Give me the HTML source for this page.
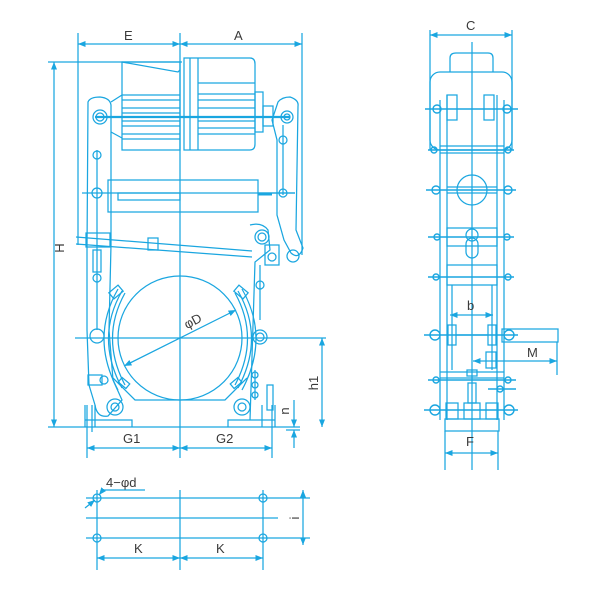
<!DOCTYPE html>
<html><head><meta charset="utf-8"><style>
html,body{margin:0;padding:0;background:#fff;}
svg{display:block;}
text{font-family:"Liberation Sans",sans-serif;fill:#3a3a3a;font-size:13px;}
</style></head><body>
<svg width="600" height="596" viewBox="0 0 600 596" xmlns="http://www.w3.org/2000/svg">
<defs>
<marker id="ar" viewBox="0 0 10 10" refX="10" refY="5" markerWidth="6" markerHeight="6" orient="auto-start-reverse"><path d="M0,1 L10,5 L0,9 z" fill="#1aa6e0"/></marker>
</defs>
<g fill="none" stroke="#1aa6e0" stroke-width="1.25">
<!-- ===== FRONT VIEW ===== -->
<line x1="78" y1="33" x2="78" y2="245"/>
<line x1="302" y1="33" x2="302" y2="255"/>
<line x1="180" y1="33" x2="180" y2="458"/>
<line x1="48" y1="62" x2="182" y2="62"/>
<line x1="48" y1="427" x2="300" y2="427"/>
<line x1="87" y1="405" x2="87" y2="458"/>
<line x1="272" y1="405" x2="272" y2="458"/>
<line x1="78" y1="44" x2="180" y2="44" marker-start="url(#ar)" marker-end="url(#ar)"/>
<line x1="180" y1="44" x2="302" y2="44" marker-start="url(#ar)" marker-end="url(#ar)"/>
<line x1="54" y1="62" x2="54" y2="427" marker-start="url(#ar)" marker-end="url(#ar)"/>
<line x1="87" y1="448" x2="180" y2="448" marker-start="url(#ar)" marker-end="url(#ar)"/>
<line x1="180" y1="448" x2="272" y2="448" marker-start="url(#ar)" marker-end="url(#ar)"/>
<line x1="75" y1="338" x2="326" y2="338"/>
<line x1="322" y1="338" x2="322" y2="427" marker-start="url(#ar)" marker-end="url(#ar)"/>
<line x1="294" y1="400" x2="294" y2="427" marker-end="url(#ar)"/>
<line x1="294" y1="448" x2="294" y2="430" marker-end="url(#ar)"/>
<line x1="286" y1="430" x2="300" y2="430"/>
<!-- motor -->
<path d="M122,62 L180,62 L180,150 L122,150 Z"/>
<path d="M122,62 L178,72 L180,70"/>
<path d="M122,95 L180,95 M122,100 L180,100 M122,108 L180,108 M122,113 L180,113 M122,121 L180,121 M122,126 L180,126 M122,134 L180,134 M122,139 L180,139"/>
<path d="M184,58 L250,58 Q255,58 255,64 L255,144 Q255,150 250,150 L184,150 Z"/>
<line x1="190" y1="58" x2="190" y2="150"/><line x1="198" y1="58" x2="198" y2="150"/>
<path d="M198,83 L255,83 M198,94 L255,94 M198,100 L255,100 M198,108 L255,108 M198,121 L255,121 M198,128 L255,128 M198,134 L255,134"/>
<rect x="255" y="92" width="8" height="40"/><rect x="263" y="106" width="10" height="20"/>
<line x1="95" y1="117" x2="290" y2="117" stroke-width="2.2"/>
<!-- left arm -->
<path d="M88,102 Q90,97 100,97 Q110,98 111,105 L111,245 L109,330 L113,380 L122,400 L108,416 Q97,418 95,405 L89,385 L87,330 L87,250 Z"/>
<circle cx="100" cy="117" r="7"/><circle cx="100" cy="117" r="4"/>
<circle cx="97" cy="155" r="4"/><circle cx="97" cy="193" r="5"/>
<line x1="97" y1="150" x2="97" y2="330"/>
<circle cx="97" cy="336" r="7"/><circle cx="97" cy="278" r="4"/>
<rect x="93" y="250" width="8" height="22"/>
<path d="M111,102 L122,95 M111,132 L122,138"/>
<!-- right arm -->
<path d="M278,102 Q282,97 290,97 Q299,100 298,106 L296,230 L303,248 Q299,260 291,253 L284,240 L277,215 L277,140 L272,120 Z"/>
<circle cx="287" cy="117" r="6"/><circle cx="287" cy="117" r="3"/>
<line x1="283" y1="125" x2="283" y2="195"/><circle cx="283" cy="140" r="4"/><circle cx="283" cy="193" r="4"/>
<line x1="258" y1="193" x2="295" y2="193"/>
<!-- spring box -->
<rect x="108" y="180" width="150" height="32"/>
<rect x="118" y="193" width="62" height="7"/>
<line x1="258" y1="194" x2="272" y2="194" stroke-width="3"/>
<line x1="82" y1="193" x2="295" y2="193"/>
<!-- lever rod -->
<path d="M76,237 L252,251 M76,244 L252,257"/>
<rect x="86" y="233" width="24" height="14"/><rect x="148" y="238" width="10" height="12"/>
<path d="M250,225 Q262,222 268,230 L270,250 L255,262 L250,420"/>
<circle cx="262" cy="237" r="7"/><circle cx="262" cy="237" r="4"/>
<rect x="265" y="245" width="14" height="20"/><circle cx="293" cy="256" r="6"/><circle cx="272" cy="257" r="4"/>
<line x1="260" y1="265" x2="260" y2="320"/><circle cx="260" cy="285" r="4"/>
<circle cx="260" cy="337" r="7"/><circle cx="260" cy="337" r="4"/>
<!-- drum -->
<circle cx="180" cy="338" r="62"/>
<path d="M125,293 Q100,338 125,385 M118,289 Q90,338 118,390 M122,291 Q95,338 122,388"/>
<path d="M235,293 Q260,338 235,385 M242,289 Q270,338 242,390 M238,291 Q265,338 238,388"/>
<path d="M113,378 L135,400 L225,400 L247,378"/>
<rect x="110" y="288" width="12" height="8" transform="rotate(-40 116 292)"/>
<rect x="235" y="288" width="12" height="8" transform="rotate(40 241 292)"/>
<rect x="119" y="380" width="10" height="6" transform="rotate(40 124 383)"/>
<rect x="231" y="380" width="10" height="6" transform="rotate(-40 236 383)"/>
<line x1="124" y1="366" x2="236" y2="310" marker-start="url(#ar)" marker-end="url(#ar)"/>
<!-- lower pivots -->
<circle cx="115" cy="407" r="8"/><circle cx="115" cy="407" r="4"/>
<circle cx="242" cy="407" r="8"/><circle cx="242" cy="407" r="4"/>
<rect x="88" y="375" width="14" height="10"/><circle cx="104" cy="380" r="4"/>
<line x1="255" y1="370" x2="255" y2="400"/><circle cx="255" cy="375" r="3"/><circle cx="255" cy="385" r="3"/><circle cx="255" cy="395" r="3"/>
<rect x="267" y="385" width="6" height="25"/>
<!-- base plates -->
<path d="M85,405 L85,427 M95,405 L95,427 M85,420 L132,420 L132,427"/>
<path d="M228,427 L228,420 L275,420 M262,405 L262,427 M275,405 L275,427"/>
<line x1="92" y1="405" x2="92" y2="432"/>

<!-- ===== SIDE VIEW ===== -->
<line x1="430" y1="30" x2="430" y2="150"/>
<line x1="512" y1="30" x2="512" y2="150"/>
<line x1="430" y1="35" x2="512" y2="35" marker-start="url(#ar)" marker-end="url(#ar)"/>
<line x1="472" y1="42" x2="472" y2="470"/>
<path d="M450,72 L450,58 Q450,53 456,53 L488,53 Q493,53 493,58 L493,72"/>
<rect x="430" y="72" width="82" height="78" rx="10"/>
<line x1="440" y1="100" x2="440" y2="420"/><line x1="447" y1="95" x2="447" y2="420"/>
<line x1="497" y1="95" x2="497" y2="420"/><line x1="504" y1="100" x2="504" y2="420"/>
<rect x="447" y="95" width="10" height="25"/><rect x="484" y="95" width="10" height="25"/>
<line x1="440" y1="146" x2="504" y2="146"/><line x1="440" y1="153" x2="504" y2="153"/>
<circle cx="472" cy="190" r="15"/>
<line x1="447" y1="187" x2="497" y2="187"/><line x1="447" y1="193" x2="497" y2="193"/>
<rect x="447" y="228" width="50" height="18"/>
<circle cx="472" cy="235" r="6"/><rect x="466" y="238" width="12" height="20" rx="6"/>
<rect x="447" y="265" width="50" height="20"/>
<line x1="452" y1="285" x2="452" y2="370"/><line x1="492" y1="285" x2="492" y2="370"/>
<line x1="450" y1="315" x2="493" y2="315" marker-start="url(#ar)" marker-end="url(#ar)"/>
<rect x="448" y="325" width="8" height="20"/><rect x="488" y="325" width="8" height="20"/>
<line x1="456" y1="335" x2="488" y2="335"/>
<rect x="502" y="329" width="56" height="13"/>
<line x1="557" y1="342" x2="557" y2="375"/>
<line x1="473" y1="361" x2="557" y2="361" marker-start="url(#ar)" marker-end="url(#ar)"/>
<rect x="486" y="352" width="10" height="16"/>
<line x1="440" y1="372" x2="504" y2="372"/><line x1="440" y1="378" x2="504" y2="378"/>
<rect x="467" y="370" width="10" height="6"/>
<rect x="468" y="383" width="8" height="20"/>
<rect x="464" y="403" width="16" height="16"/>
<rect x="446" y="403" width="12" height="16"/><rect x="486" y="403" width="12" height="16"/>
<rect x="445" y="419" width="54" height="12"/>
<line x1="445" y1="431" x2="445" y2="470"/><line x1="498" y1="431" x2="498" y2="470"/>
<line x1="445" y1="453" x2="498" y2="453" marker-start="url(#ar)" marker-end="url(#ar)"/>
<g stroke-width="1.4">
<line x1="425" y1="109" x2="518" y2="109"/><circle cx="437" cy="109" r="4"/><circle cx="507" cy="109" r="4"/>
<line x1="428" y1="150" x2="514" y2="150"/><circle cx="434" cy="150" r="3"/><circle cx="508" cy="150" r="3"/>
<line x1="426" y1="190" x2="516" y2="190"/><circle cx="436" cy="190" r="4"/><circle cx="508" cy="190" r="4"/>
<line x1="428" y1="237" x2="514" y2="237"/><circle cx="437" cy="237" r="3"/><circle cx="507" cy="237" r="3"/>
<line x1="428" y1="277" x2="514" y2="277"/><circle cx="436" cy="277" r="3"/><circle cx="508" cy="277" r="3"/>
<line x1="424" y1="335" x2="518" y2="335"/><circle cx="435" cy="335" r="5"/><circle cx="509" cy="335" r="5"/>
<line x1="428" y1="380" x2="516" y2="380"/><circle cx="436" cy="380" r="3"/><circle cx="508" cy="380" r="3"/>
<line x1="424" y1="410" x2="518" y2="410"/><circle cx="435" cy="410" r="5"/><circle cx="509" cy="410" r="5"/>
<line x1="488" y1="389" x2="516" y2="389"/><circle cx="500" cy="389" r="3"/>
</g>

<!-- ===== PLAN ===== -->
<line x1="86" y1="498" x2="310" y2="498"/>
<line x1="86" y1="518" x2="278" y2="518"/>
<line x1="86" y1="538" x2="310" y2="538"/>
<line x1="97" y1="490" x2="97" y2="570"/>
<line x1="180" y1="490" x2="180" y2="570"/>
<line x1="263" y1="490" x2="263" y2="570"/>
<circle cx="97" cy="498" r="4"/><circle cx="97" cy="538" r="4"/>
<circle cx="263" cy="498" r="4"/><circle cx="263" cy="538" r="4"/>
<line x1="97" y1="558" x2="180" y2="558" marker-start="url(#ar)" marker-end="url(#ar)"/>
<line x1="180" y1="558" x2="263" y2="558" marker-start="url(#ar)" marker-end="url(#ar)"/>
<line x1="303" y1="490" x2="303" y2="545" marker-start="url(#ar)" marker-end="url(#ar)"/>
<line x1="145" y1="490" x2="103" y2="490"/><line x1="103" y1="490" x2="99" y2="495" marker-end="url(#ar)"/>
<line x1="85" y1="508" x2="95" y2="500" marker-end="url(#ar)"/>
</g>
<text x="124" y="40">E</text>
<text x="234" y="40">A</text>
<text x="60" y="252" transform="rotate(-90 60 248)" text-anchor="middle">H</text>
<text x="184" y="327" transform="rotate(-28 190 322)">φD</text>
<text x="123" y="443">G1</text>
<text x="216" y="443">G2</text>
<text x="318" y="383" transform="rotate(-90 318 383)" text-anchor="middle">h1</text>
<text x="289" y="411" transform="rotate(-90 289 411)" text-anchor="middle" font-size="11">n</text>
<text x="466" y="30">C</text>
<text x="467" y="310">b</text>
<text x="527" y="357">M</text>
<text x="466" y="446">F</text>
<text x="106" y="487" font-size="12">4−φd</text>
<text x="134" y="553">K</text>
<text x="216" y="553">K</text>
<text x="297" y="520" transform="rotate(-90 297 518)" text-anchor="middle" font-size="11">i</text>
</svg>
</body></html>
